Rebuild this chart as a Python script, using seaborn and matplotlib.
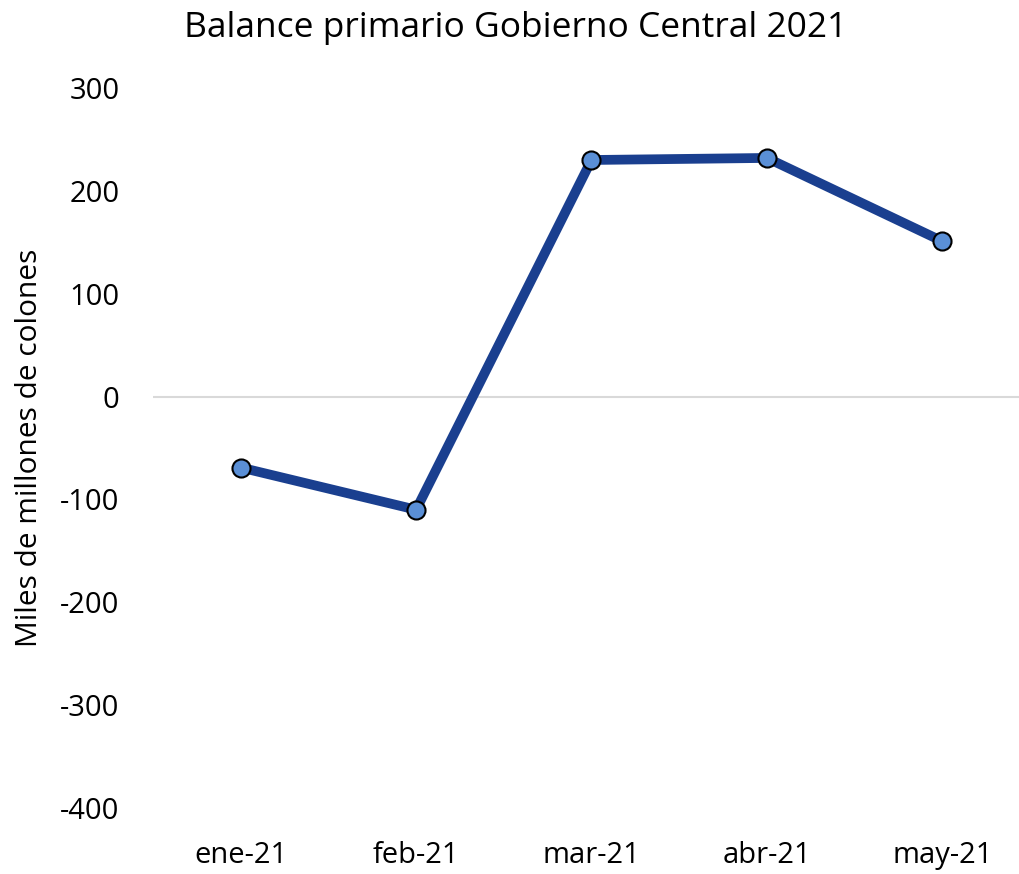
import matplotlib.pyplot as plt
import seaborn as sns
import pandas as pd

meses = ['ene-21', 'feb-21', 'mar-21', 'abr-21', 'may-21']
balance = [-69, -110, 230, 232, 151]
yticks = [-400, -300, -200, -100, 0, 100, 200, 300]

sns.set_theme(style='white')
plt.rcParams['font.family'] = ['Open Sans', 'DejaVu Sans']
plt.rcParams['text.color'] = 'black'
plt.rcParams['axes.labelcolor'] = 'black'
plt.rcParams['xtick.color'] = 'black'
plt.rcParams['ytick.color'] = 'black'

df = pd.DataFrame({'mes': meses, 'balance': balance})

fig = plt.figure(figsize=(10.2, 8.74), dpi=100)
ax = fig.add_axes([153 / 1020, 66 / 874, 877 / 1020, 720 / 874])

ax.axhline(0, color='#d9d9d9', linewidth=1.5, zorder=1)
sns.lineplot(data=df, x='mes', y='balance', ax=ax, color='#1a3f8f',
             linewidth=7, marker='o', markersize=13,
             markerfacecolor='#5a8fd6', markeredgecolor='black',
             markeredgewidth=1.5, zorder=3)

ax.set_xlim(-0.5, len(meses) - 0.5)
ax.set_ylim(-400, 300)
ax.set_yticks(yticks)
ax.set_yticklabels([str(v) for v in yticks])
ax.tick_params(axis='y', length=0, pad=24, labelsize=21)
ax.tick_params(axis='x', length=0, pad=24, labelsize=21)
for s in ax.spines.values():
    s.set_visible(False)

ax.set_xlabel('')
ax.set_ylabel('Miles de millones de colones', fontsize=21.5, labelpad=12)
fig.text(516 / 1020, 1 - 28 / 874, 'Balance primario Gobierno Central 2021',
         ha='center', va='center', fontsize=25.5)

fig.savefig('out.png', dpi=100, facecolor='white')
